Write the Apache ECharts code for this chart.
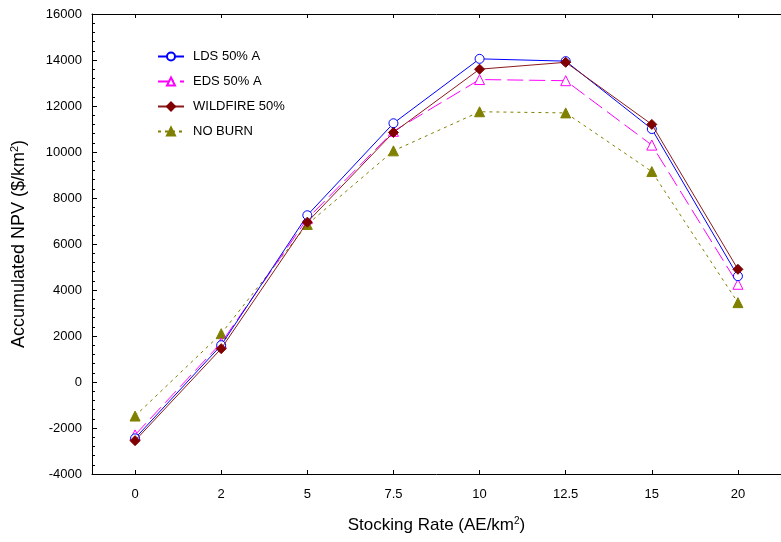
<!DOCTYPE html>
<html>
<head>
<meta charset="utf-8">
<script src="https://cdn.jsdelivr.net/npm/echarts@6/dist/echarts.min.js"></script>
<style>
  html, body { margin: 0; padding: 0; background: #fff; }
  #chart { width: 781px; height: 542px; }
</style>
</head>
<body>
<div id="chart"></div>
<script>
// Stocking rates (AE/km²) on the horizontal axis
const stockingRates = ['0', '2', '5', '7.5', '10', '12.5', '15', '20'];

// Accumulated NPV ($/km²) per burning scenario
const ldsValues      = [-2450, 1600, 7250, 11250, 14050, 13950, 11000, 4600];
const edsValues      = [-2300, 1700, 7100, 10900, 13150, 13100, 10300, 4250];
const wildfireValues = [-2550, 1450, 6950, 10850, 13600, 13900, 11200, 4900];
const noBurnValues   = [-1480, 2100, 6850, 10050, 11750, 11700, 9150, 3450];

const FONT = 'Liberation Sans, Arial, sans-serif';

const chart = echarts.init(document.getElementById('chart'), null, { renderer: 'canvas' });

const axisLine = { show: true, onZero: false, lineStyle: { color: '#000', width: 1 } };
const xTick = { show: true, inside: true, alignWithLabel: true, length: 4, lineStyle: { color: '#000' } };

chart.setOption({
  animation: false,
  backgroundColor: '#fff',
  textStyle: { fontFamily: FONT, color: '#000' },
  grid: { left: 92, top: 14, width: 697, height: 460, containLabel: false },
  legend: {
    orient: 'vertical',
    left: 152,
    top: 45,
    itemWidth: 26,
    itemHeight: 10,
    itemGap: 12,
    textStyle: { fontFamily: FONT, fontSize: 13, color: '#000', padding: [0, 0, 0, 4] },
    data: ['LDS 50% A', 'EDS 50% A', 'WILDFIRE 50%', 'NO BURN']
  },
  xAxis: [
    {
      type: 'category',
      data: stockingRates,
      boundaryGap: true,
      axisLine: axisLine,
      axisTick: xTick,
      axisLabel: { fontFamily: FONT, fontSize: 13, color: '#000', margin: 14 },
      splitLine: { show: false },
      name: '{t|Stocking Rate (AE/km}{s|2}{t|)}',
      nameLocation: 'middle',
      nameGap: 42,
      nameTextStyle: {
        rich: {
          t: { fontFamily: FONT, fontSize: 17, color: '#000' },
          s: { fontFamily: FONT, fontSize: 10, color: '#000', verticalAlign: 'top', padding: [0, 0, 9, 0] }
        }
      }
    },
    {
      type: 'category',
      data: stockingRates,
      position: 'top',
      boundaryGap: true,
      axisLine: axisLine,
      axisTick: xTick,
      axisLabel: { show: false },
      splitLine: { show: false }
    }
  ],
  yAxis: [
    {
      type: 'value',
      min: -4000,
      max: 16000,
      interval: 2000,
      axisLine: axisLine,
      axisTick: { show: true, inside: true, length: 5, lineStyle: { color: '#000' } },
      minorTick: { show: true, splitNumber: 5, length: 3, lineStyle: { color: '#000' } },
      axisLabel: {
        fontFamily: FONT, fontSize: 13, color: '#000', margin: 10,
        formatter: function (v) { return String(v); }
      },
      splitLine: { show: false },
      name: '{t|Accumulated NPV ($/km}{s|2}{t|)}',
      nameLocation: 'middle',
      nameGap: 62,
      nameTextStyle: {
        rich: {
          t: { fontFamily: FONT, fontSize: 18, color: '#000' },
          s: { fontFamily: FONT, fontSize: 11, color: '#000', verticalAlign: 'top', padding: [0, 0, 10, 0] }
        }
      }
    },
    {
      type: 'value',
      min: -4000,
      max: 16000,
      interval: 2000,
      position: 'right',
      axisLine: axisLine,
      axisTick: { show: false },
      axisLabel: { show: false },
      splitLine: { show: false }
    }
  ],
  series: [
    {
      name: 'LDS 50% A',
      type: 'line',
      data: ldsValues,
      z: 4,
      symbol: 'circle',
      symbolSize: 9,
      itemStyle: { color: '#ffffff', borderColor: '#0000ff', borderWidth: 1 },
      lineStyle: { color: '#0000ff', width: 1 }
    },
    {
      name: 'EDS 50% A',
      type: 'line',
      data: edsValues,
      z: 3,
      symbol: 'triangle',
      symbolSize: 10,
      itemStyle: { color: '#ffffff', borderColor: '#ff00ff', borderWidth: 1 },
      lineStyle: { color: '#ff00ff', width: 1, type: [16, 6] }
    },
    {
      name: 'WILDFIRE 50%',
      type: 'line',
      data: wildfireValues,
      z: 5,
      symbol: 'diamond',
      symbolSize: 10,
      itemStyle: { color: '#800000', borderColor: '#800000', borderWidth: 1 },
      lineStyle: { color: '#8b1a1a', width: 1 }
    },
    {
      name: 'NO BURN',
      type: 'line',
      data: noBurnValues,
      z: 2,
      symbol: 'triangle',
      symbolSize: 10,
      itemStyle: { color: '#808000', borderColor: '#808000', borderWidth: 1 },
      lineStyle: { color: '#808000', width: 1, type: [3, 4] }
    }
  ]
});
</script>
</body>
</html>
